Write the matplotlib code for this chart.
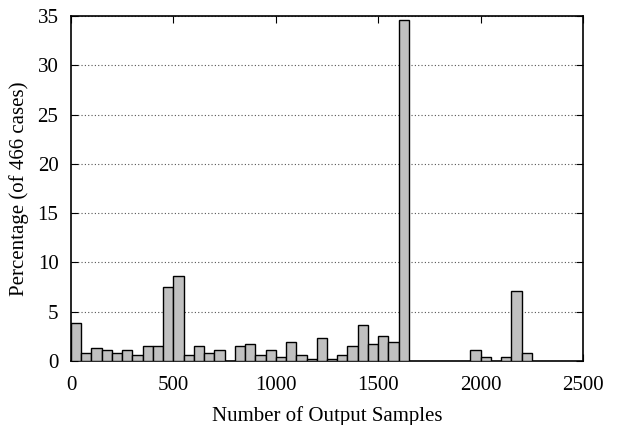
import numpy as np
import matplotlib.pyplot as plt

plt.rcParams['font.family'] = ['Liberation Serif', 'DejaVu Serif']

# histogram of output sample counts, bins of 50, counts out of 466 cases
total_cases = 466
bin_width = 50
bin_starts = np.arange(0, 2250, bin_width)
counts = [18, 4, 6, 5, 4, 5, 3, 7, 7, 35,
          40, 3, 7, 4, 5, 0, 7, 8, 3, 5,
          2, 9, 3, 1, 11, 1, 3, 7, 17, 8,
          12, 9, 161, 0, 0, 0, 0, 0, 0, 5,
          2, 0, 2, 33, 4]
percent = np.array(counts) / total_cases * 100

fig, ax = plt.subplots(figsize=(6.18, 4.25), dpi=100)
fig.subplots_adjust(left=71/618, right=583/618, top=1-16/425, bottom=1-361/425)

mask = percent > 0
ax.bar(bin_starts[mask], percent[mask], width=bin_width, align='edge',
       color='#c0c0c0', edgecolor='black', linewidth=1, zorder=3)

ax.set_xlim(0, 2500)
ax.set_ylim(0, 35)
ax.set_xticks(np.arange(0, 2501, 500))
ax.set_yticks(np.arange(0, 36, 5))
ax.yaxis.grid(True, linestyle=(0, (1, 2)), color='#555555', linewidth=0.8, zorder=0)
ax.tick_params(direction='in', top=True, right=True, labelsize=15, length=5)
ax.tick_params(axis='x', pad=11)
ax.tick_params(axis='y', pad=9)

ax.set_xlabel('Number of Output Samples', fontsize=15, labelpad=8)
ax.set_ylabel('Percentage (of 466 cases)', fontsize=15, labelpad=6)

for s in ax.spines.values():
    s.set_linewidth(1.2)

fig.savefig('out.png', dpi=100)
